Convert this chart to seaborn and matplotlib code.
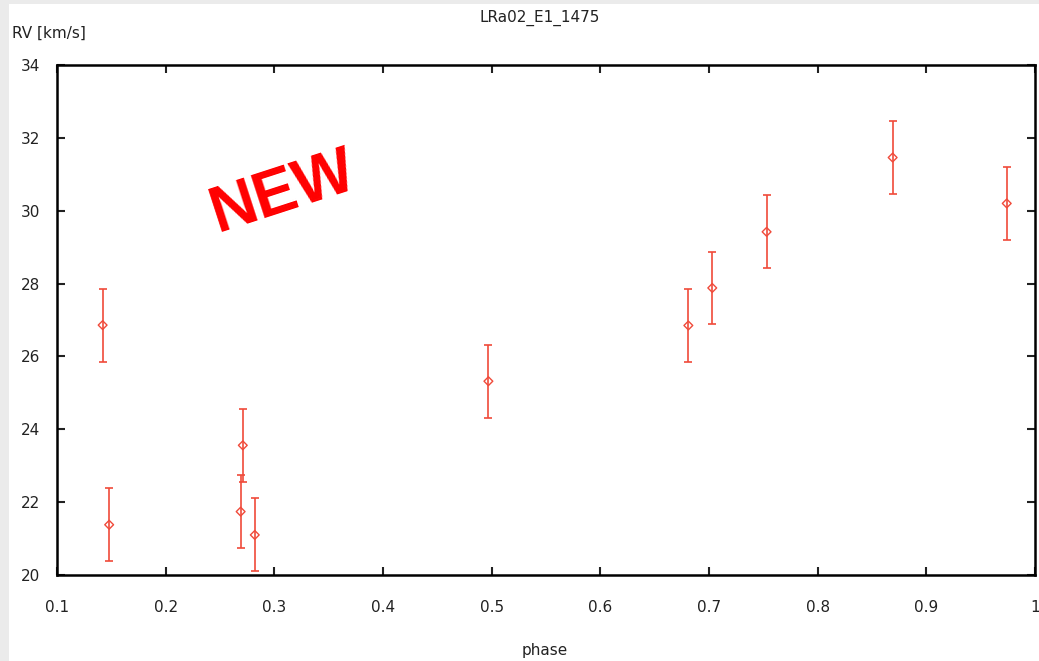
import matplotlib
matplotlib.use("Agg")
import matplotlib.pyplot as plt
import seaborn as sns
import pandas as pd
from matplotlib.patches import Rectangle

phase = [0.142, 0.148, 0.269, 0.271, 0.282, 0.497, 0.681, 0.703, 0.753, 0.869, 0.974]
rv = [26.86, 21.38, 21.74, 23.56, 21.10, 25.32, 26.85, 27.88, 29.42, 31.46, 30.20]
rv_err = [1.0, 1.0, 1.0, 1.0, 1.0, 1.0, 1.0, 1.0, 1.0, 1.0, 1.0]
xticks = [0.1, 0.2, 0.3, 0.4, 0.5, 0.6, 0.7, 0.8, 0.9, 1.0]
xtick_labels = ["0.1", "0.2", "0.3", "0.4", "0.5", "0.6", "0.7", "0.8", "0.9", "1"]
yticks = [20, 22, 24, 26, 28, 30, 32, 34]

sns.set_style("ticks")
plt.rcParams['font.family'] = ['DejaVu Sans']

red = "#f04a3a"
df = pd.DataFrame({"phase": phase, "rv": rv, "err": rv_err})

fig = plt.figure(figsize=(10.39, 6.61), dpi=100)
fig.patch.set_facecolor("#ebebeb")
fig.patches.append(Rectangle((9/1039, 0), 1, 1 - 4/661, transform=fig.transFigure,
                             facecolor="white", edgecolor="none", zorder=-10))
ax = fig.add_axes([57/1039, 86/661, (1035-57)/1039, (575-65)/661])
ax.set_facecolor("white")

ax.errorbar(df["phase"], df["rv"], yerr=df["err"], fmt="none", ecolor=red,
            elinewidth=1.2, capsize=3, capthick=1.2)
sns.scatterplot(data=df, x="phase", y="rv", ax=ax, marker="D", s=20,
                facecolor="none", edgecolor=red, linewidth=1.0, zorder=5)

ax.set_xlim(0.1, 1.0)
ax.set_ylim(20, 34)
ax.set_xticks(xticks)
ax.set_xticklabels(xtick_labels)
ax.set_yticks(yticks)
ax.tick_params(direction="in", length=6, width=1.5, top=True, right=True,
               labelsize=11, colors="#222222", pad=12)
ax.tick_params(axis="x", pad=18)
for s in ax.spines.values():
    s.set_linewidth(1.8)
    s.set_color("black")
    s.set_visible(True)
ax.set_xlabel("")
ax.set_ylabel("")

fig.text(540/1039, 1 - 18/661, "LRa02_E1_1475", ha="center", va="center", fontsize=11, color="#222222")
fig.text(12/1039, 1 - 33/661, "RV [km/s]", ha="left", va="center", fontsize=11, color="#222222")
fig.text(545/1039, 1 - 650/661, "phase", ha="center", va="center", fontsize=11, color="#222222")
fig.text(283/1039, 1 - 193/661, "NEW", ha="center", va="center", fontsize=46,
         fontweight="bold", color="#ff0000", rotation=18,
         family=["Liberation Sans", "DejaVu Sans"], rotation_mode="anchor")

fig.savefig("out.png", dpi=100, facecolor=fig.get_facecolor())
